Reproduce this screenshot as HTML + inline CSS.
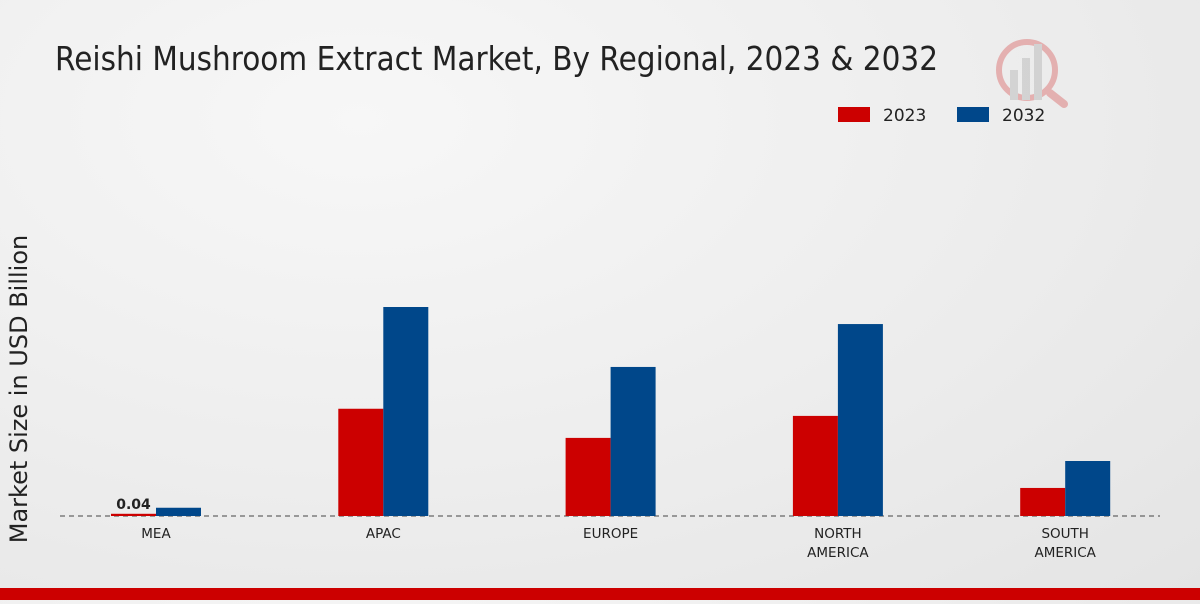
<!DOCTYPE html>
<html><head><meta charset="utf-8"><style>
html,body{margin:0;padding:0;}
body{width:1200px;height:600px;overflow:hidden;background:radial-gradient(ellipse at 30% 20%,#f7f7f7 0%,#ececec 60%,#e4e4e4 100%);font-family:"DejaVu Sans","Liberation Sans",sans-serif;}
</style></head><body>
<svg id="chart" width="1200" height="600" xmlns="http://www.w3.org/2000/svg">
<text x="55" y="70" font-size="33" fill="#222" textLength="883" lengthAdjust="spacingAndGlyphs" font-family="DejaVu Sans, sans-serif">Reishi Mushroom Extract Market, By Regional, 2023 &amp; 2032</text>
<g opacity="0.25">
<circle cx="1027" cy="70" r="28" fill="none" stroke="#c00" stroke-width="6"/>
<line x1="1050" y1="93" x2="1064" y2="104" stroke="#c00" stroke-width="8" stroke-linecap="round"/>
<rect x="1010" y="70" width="8" height="30" fill="#888"/><rect x="1022" y="58" width="8" height="42" fill="#888"/><rect x="1034" y="44" width="8" height="56" fill="#888"/>
</g>
<g>
<rect x="838" y="107" width="32" height="15" fill="#cc0000"/>
<text x="883" y="121" font-size="17" fill="#222">2023</text>
<rect x="957" y="107" width="32" height="15" fill="#00478a"/>
<text x="1002" y="121" font-size="17" fill="#222">2032</text>
</g>
<text transform="translate(27,389) rotate(-90)" text-anchor="middle" font-size="24" fill="#222">Market Size in USD Billion</text>
<line x1="60" y1="516" x2="1160" y2="516" stroke="#444" stroke-width="1" stroke-dasharray="5,4"/>
<g id="bars"></g>
<rect x="0" y="588" width="1200" height="12" fill="#cc0000"/>
</svg>
<script>
const categories=[["MEA"],["APAC"],["EUROPE"],["NORTH","AMERICA"],["SOUTH","AMERICA"]];
const values2023=[0.04,1.95,1.42,1.82,0.51];
const values2032=[0.15,3.8,2.71,3.49,1.0];
const valueLabels=["0.04","","","",""];
const ns="http://www.w3.org/2000/svg";
const g=document.getElementById('bars');
const baseY=516,pxPer=55,x0=156,step=227.3,bw=45;
const y=v=>baseY-v*pxPer;
function mk(t,a){const e=document.createElementNS(ns,t);for(const k in a)e.setAttribute(k,a[k]);g.appendChild(e);return e;}
categories.forEach((c,i)=>{
 const cx=x0+i*step;
 const r=mk('rect',{x:cx-bw,y:y(values2023[i]),width:bw,height:baseY-y(values2023[i]),fill:'#cc0000'});
 
 
 const b=mk('rect',{x:cx,y:y(values2032[i]),width:bw,height:baseY-y(values2032[i]),fill:'#00478a'});
 
 
 if(valueLabels[i]){const t=mk('text',{x:cx-bw/2,y:y(values2023[i])-5,'text-anchor':'middle','font-size':14,'font-weight':'bold',fill:'#222'});t.textContent=valueLabels[i];
 
 }
 c.forEach((line,j)=>{const t=mk('text',{x:cx,y:538+j*19,'text-anchor':'middle','font-size':13.5,fill:'#222'});t.textContent=line;
 
 });
});
</script>
</body></html>
